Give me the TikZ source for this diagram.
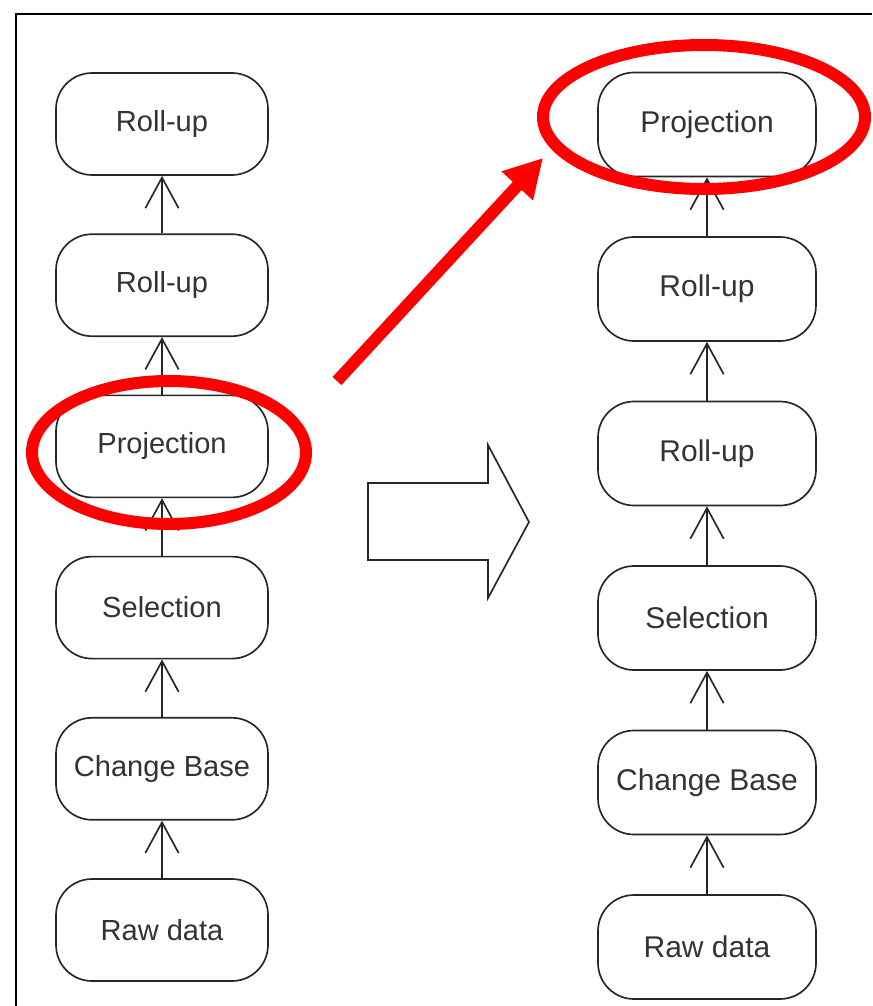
\documentclass[tikz,border=0pt]{standalone}
\usepackage{fontspec}
\setmainfont{Liberation Sans}
\usetikzlibrary{arrows.meta}
\begin{document}
\begin{tikzpicture}[x=0.75pt,y=-0.75pt,
  box/.style={draw=black!85, line width=1.25pt, rounded corners=27pt,
    minimum width=159pt, minimum height=76.5pt, inner sep=0pt,
    text=black!80, font=\fontsize{21.8}{26}\selectfont},
  rbox/.style={box, minimum width=163.5pt, minimum height=78pt,
    font=\fontsize{22.5}{27}\selectfont},
  flow/.style={draw=black!85, line width=1.25pt,
    -{Straight Barb[length=23pt,width=25pt]}},
  hl/.style={draw=red, line width=9pt},
  bigarrow/.style={draw=black!85, line width=1.25pt, fill=white, line join=miter},
]
\useasboundingbox (0,0) rectangle (872,1006);
% frame
\draw[line width=1.5pt] (16,1006) -- (16,14) -- (872,14);

% left column
\node[box] (l1) at (162,124)   {Roll-up};
\node[box] (l2) at (162,285.2) {Roll-up};
\node[box] (l3) at (162,446.4) {Projection};
\node[box] (l4) at (162,607.6) {Selection};
\node[box] (l5) at (162,768.8) {Change Base};
\node[box] (l6) at (162,930)   {Raw data};
\draw[flow] (l6.north) -- (l5.south);
\draw[flow] (l5.north) -- (l4.south);
\draw[flow] (l4.north) -- (l3.south);
\draw[flow] (l3.north) -- (l2.south);
\draw[flow] (l2.north) -- (l1.south);

% right column
\node[rbox] (r1) at (707,124.5) {Projection};
\node[rbox] (r2) at (707,289)   {Roll-up};
\node[rbox] (r3) at (707,453.5) {Roll-up};
\node[rbox] (r4) at (707,618)   {Selection};
\node[rbox] (r5) at (707,782.5) {Change Base};
\node[rbox] (r6) at (707,947)   {Raw data};
\draw[flow] (r6.north) -- (r5.south);
\draw[flow] (r5.north) -- (r4.south);
\draw[flow] (r4.north) -- (r3.south);
\draw[flow] (r3.north) -- (r2.south);
\draw[flow] (r2.north) -- (r1.south);

% block arrow
\draw[bigarrow] (368,483) -- (488,483) -- (488,445) -- (529,522)
  -- (488,598) -- (488,560) -- (368,560) -- cycle;

% red highlights
\draw[hl] (169,452.5) ellipse [x radius=137, y radius=71.5];
\draw[hl] (704,117) ellipse [x radius=161, y radius=72];
\coordinate (rs) at (337,381);
\coordinate (rt) at (543,158);
\draw[draw=red, line width=9pt, -{Triangle[length=28.5pt,width=30pt]}] (rs) -- (rt);
\end{tikzpicture}
\end{document}
